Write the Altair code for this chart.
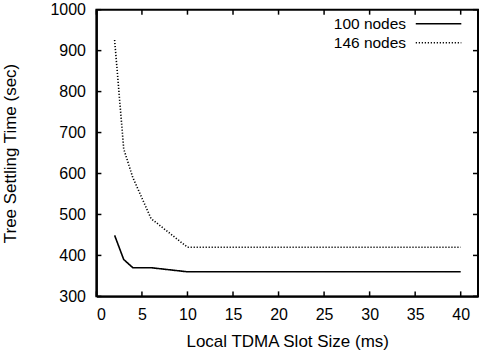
import altair as alt
import pandas as pd

# data
x_100 = [2, 3, 4, 6, 10, 20, 30, 40]
y_100 = [449, 390, 370, 370, 360, 360, 360, 360]
x_146 = [2, 3, 4, 6, 10, 20, 30, 40]
y_146 = [926, 660, 590, 490, 420, 420, 420, 420]
series_names = ["100 nodes", "146 nodes"]
x_ticks = [0, 5, 10, 15, 20, 25, 30, 35, 40]
y_ticks = [300, 400, 500, 600, 700, 800, 900, 1000]
x_domain = [0, 41.9]
y_domain = [300, 1000]

W, H = 382, 287

df = pd.DataFrame(
    [{"x": a, "y": b, "s": series_names[0]} for a, b in zip(x_100, y_100)]
    + [{"x": a, "y": b, "s": series_names[1]} for a, b in zip(x_146, y_146)]
)

FONT = "Liberation Sans"
xscale = alt.Scale(domain=x_domain, nice=False, zero=False)
yscale = alt.Scale(domain=y_domain, nice=False, zero=False)

# inward tick marks: 5 px expressed in data units
tx = 5 * (x_domain[1] - x_domain[0]) / W
ty = 5 * (y_domain[1] - y_domain[0]) / H
tick_df = pd.DataFrame(
    [{"x": v, "x2": v, "y": y_domain[0], "y2": y_domain[0] + ty} for v in x_ticks]
    + [{"x": v, "x2": v, "y": y_domain[1], "y2": y_domain[1] - ty} for v in x_ticks]
    + [{"x": x_domain[0], "x2": x_domain[0] + tx, "y": v, "y2": v} for v in y_ticks]
    + [{"x": x_domain[1], "x2": x_domain[1] - tx, "y": v, "y2": v} for v in y_ticks]
)

legend_kw = dict(title=None, orient="none", legendX=332, legendY=3.5,
                 symbolType="M-2.4,0H2.4", symbolSize=361,
                 symbolStrokeWidth=1.5, symbolStrokeColor="black",
                 labelFont=FONT, labelFontSize=15.5, labelColor="black",
                 labelAlign="right", labelOffset={"expr": "-43"},
                 rowPadding=0)

main = alt.Chart(df).mark_line(strokeWidth=1.6).encode(
    x=alt.X("x:Q", scale=xscale,
            axis=alt.Axis(values=x_ticks, title="Local TDMA Slot Size (ms)",
                          labelPadding=10, titleX=W / 2, titleY=45,
                          titleBaseline="middle", titleAnchor="middle")),
    y=alt.Y("y:Q", scale=yscale,
            axis=alt.Axis(values=y_ticks, title="Tree Settling Time (sec)", format="d",
                          labelPadding=11, titleX=-86, titleY=H / 2,
                          titleBaseline="middle", titleAngle=-90)),
    color=alt.Color("s:N", scale=alt.Scale(domain=series_names, range=["black", "black"]),
                    legend=alt.Legend(**legend_kw)),
    strokeDash=alt.StrokeDash("s:N", scale=alt.Scale(domain=series_names, range=[[1, 0], [1.2, 1.8]]),
                              legend=alt.Legend(**legend_kw)),
)

ticks = alt.Chart(tick_df).mark_rule(color="#000000", strokeWidth=1.5, opacity=1).encode(
    x=alt.X("x:Q", scale=xscale), x2="x2:Q",
    y=alt.Y("y:Q", scale=yscale), y2="y2:Q",
)

chart = alt.layer(main, ticks).properties(
    width=W, height=H,
    padding={"left": 1.5, "top": 1.5, "right": 0, "bottom": 2},
).configure_axis(
    grid=False,
    domain=True,
    domainColor="#000000",
    domainWidth=2,
    ticks=False,
    labelColor="black",
    labelFont=FONT,
    labelFontSize=16,
    titleFont=FONT,
    titleFontSize=17,
    titleFontWeight="normal",
    titleColor="black",
).configure_view(stroke="#000000", strokeWidth=2)

chart.save("out.html", embed_options={"renderer": "svg", "actions": False})
